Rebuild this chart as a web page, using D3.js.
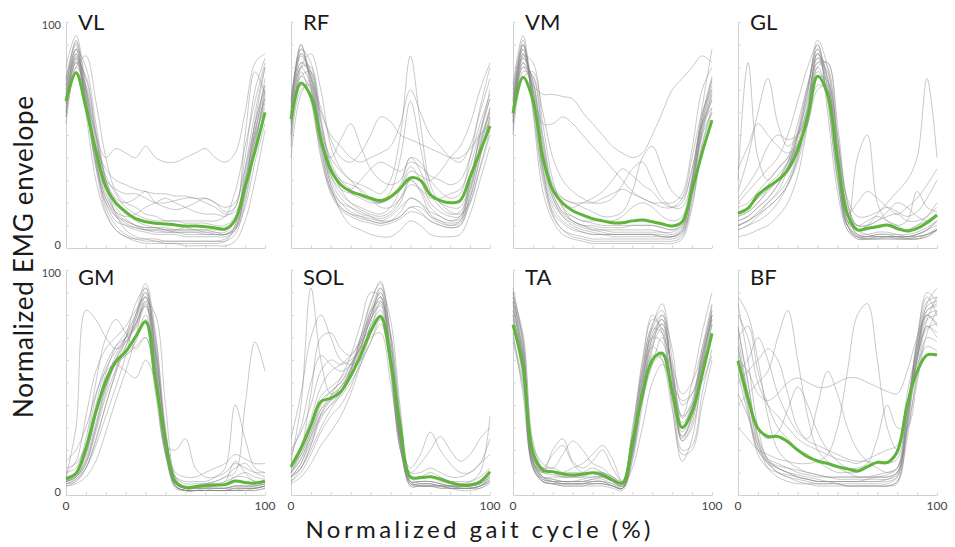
<!DOCTYPE html>
<html><head><meta charset="utf-8">
<script src="https://cdn.jsdelivr.net/npm/d3@7"></script>
<style>body{margin:0;background:#fff}svg{display:block}</style>
</head><body>
<svg id="c" width="955" height="547"></svg>
<script>
// ---- data ----
const gaitPct = [0,5,10,15,20,25,30,35,40,45,50,55,60,65,70,75,80,85,90,95,100];
const muscles = ["VL","RF","VM","GL","GM","SOL","TA","BF"];
const yTickLabels = ["0","100"];
const xTickLabels = ["0","100"];

const meanVL  = [65,77.5,62,43,27,20,16,13,11.6,11,10.6,10.2,9.7,9.7,9.4,8.9,8.4,12.4,27,43,60];
const meanRF  = [57,73,67,48,34.5,28,25,23.5,22,21,22.7,26.5,31,30,23.5,21,20,21,31.5,42.6,54];
const meanVM  = [59.6,75.5,65.5,40,25.7,19.8,16.5,14.6,13,12,11.2,11.2,12,12.4,11.6,10.6,9.7,11.6,25.7,42,56.6];
const meanGL  = [15.3,17.5,23.5,27,30,34.5,43.4,58,76,68,39,15,8,8.7,9.4,10.2,8.7,7.5,8.7,11.2,14.6];
const meanGM  = [7.1,9.6,20.7,37,50.4,59.3,63.7,70.4,77,50.4,23.7,5.9,3.3,3.7,4.1,4.4,4.6,6.2,5.6,5.2,6.2];
const meanSOL = [12.6,20.7,31,41.5,43,46,53,62,72.6,79.3,60,30,8,7.7,8.1,7.1,5.6,4.4,4.4,5.9,10.4];
const meanTA  = [75.6,57,19,11,10.4,9.3,8.9,9.2,9.9,8.9,6.7,5.2,23.7,44.4,60,63,46,30,37,53.3,71.8];
const meanBF  = [59.6,43,29.6,26,26,23.7,20,17,15.1,14,12.6,11.6,10.7,12.6,14.5,14.5,19.3,40,54.8,62.2,62.2];

const tracesVL = [
 [70,92,70,40,18,10,6,4,3,3,2,2,2,2,2,2,3,10,35,60,80],
 [60,88,80,55,30,15,8,5,4,3,3,3,3,3,3,3,4,8,25,50,75],
 [75,90,60,30,15,8,5,4,4,4,3,3,3,3,3,3,3,6,20,45,70],
 [55,80,85,65,40,25,20,18,15,14,12,12,12,12,12,12,14,25,45,65,82],
 [68,85,65,45,35,30,28,26,25,24,24,23,23,22,22,20,18,20,35,55,72],
 [80,94,72,50,40,44,42,40,45,40,38,38,40,42,44,40,38,42,60,82,86],
 [62,84,75,52,30,22,20,22,25,20,18,17,18,20,22,20,16,18,50,78,68],
 [72,88,68,38,20,12,10,9,8,8,8,7,7,7,7,6,6,8,18,38,55],
 [58,82,76,50,26,16,12,10,9,9,8,8,9,8,8,8,8,12,30,52,66],
 [66,86,70,42,24,16,14,15,18,20,22,20,18,16,15,15,14,18,40,70,84],
 [74,91,66,36,16,8,5,3,2,2,2,2,1,1,1,1,1,3,12,30,52],
 [64,83,64,44,30,26,24,24,22,20,20,21,22,22,20,18,15,16,28,48,64],
 [68,84,66,40,22,14,10,8,7,6,6,6,5,5,5,5,5,8,22,45,68],
 [60,80,72,50,30,20,15,12,10,9,9,8,8,8,8,7,7,12,32,55,72],
 [72,88,64,36,20,14,12,10,9,9,8,8,8,8,7,7,6,9,24,48,66],
 [64,82,68,46,28,18,13,10,8,7,7,7,6,6,6,6,6,10,28,52,70],
 [58,78,70,48,32,24,18,15,13,12,12,12,11,11,11,10,10,14,30,50,62],
 [70,86,62,38,22,15,11,9,8,8,7,7,7,7,6,6,6,9,26,56,80]
];
const tracesRF = [
 [60,88,82,50,30,22,18,15,14,13,15,20,30,25,15,12,10,12,30,50,70],
 [50,80,86,70,45,35,30,25,22,20,25,40,65,45,25,18,15,16,28,45,62],
 [65,90,70,40,25,18,15,14,13,12,12,14,18,16,12,10,9,10,22,40,58],
 [45,70,72,60,50,45,40,38,40,42,45,55,70,60,50,45,40,38,45,60,75],
 [55,78,65,45,40,48,55,45,35,30,28,30,40,38,30,25,22,24,40,62,80],
 [62,85,75,48,28,16,10,8,6,5,5,8,12,10,6,5,5,6,15,30,45],
 [58,82,78,55,35,28,26,30,35,38,36,34,38,36,32,30,28,30,40,55,68],
 [48,72,68,52,40,34,30,28,26,24,30,50,85,55,28,20,16,15,20,35,50],
 [52,76,70,48,32,26,24,22,20,20,22,26,34,32,30,34,40,45,55,70,82],
 [66,86,76,46,26,20,18,16,14,12,14,18,22,20,16,14,12,14,30,48,60],
 [40,68,74,62,48,40,38,42,50,58,56,50,48,46,44,42,40,40,44,50,55],
 [56,80,72,50,36,30,28,26,22,18,18,22,28,26,22,22,24,26,36,52,66],
 [60,86,78,48,28,20,16,14,12,11,12,16,22,20,14,11,10,11,24,44,60],
 [54,80,80,58,36,26,20,17,15,14,16,22,30,26,18,14,12,13,26,46,62],
 [62,88,74,44,26,18,15,13,12,11,12,14,18,18,14,12,11,12,22,40,56],
 [58,82,76,52,32,24,20,18,16,15,18,26,36,30,20,16,14,14,26,42,58],
 [64,90,72,42,24,17,14,12,11,10,11,13,16,15,12,10,9,10,20,36,52],
 [50,76,78,56,38,30,26,23,21,20,22,28,40,34,24,20,18,18,30,50,66]
];
const tracesVM = [
 [62,90,70,35,15,8,5,4,3,3,3,3,3,3,3,3,3,5,25,55,72],
 [55,85,82,55,30,18,12,10,8,7,6,6,6,6,6,5,5,8,30,55,65],
 [70,92,60,25,12,6,4,3,2,2,2,2,2,2,2,2,2,4,18,45,60],
 [60,80,72,68,68,67,66,60,55,50,45,42,40,42,50,60,70,75,80,85,82],
 [58,82,70,55,55,58,55,50,45,40,35,30,25,22,20,18,18,22,40,60,70],
 [65,88,68,40,25,20,18,20,22,25,30,35,32,28,25,20,18,20,35,58,75],
 [52,78,76,50,28,22,20,18,16,14,14,16,25,40,45,35,25,22,35,55,62],
 [68,90,66,38,22,15,12,10,10,9,9,9,10,10,10,9,8,10,28,52,68],
 [56,84,74,46,24,16,14,12,12,12,12,14,18,20,18,14,12,14,32,62,88],
 [62,86,70,42,26,22,20,20,20,22,24,26,24,22,20,20,20,24,44,70,80],
 [72,94,62,30,14,8,6,5,4,4,4,4,4,4,4,4,4,6,20,42,55],
 [50,75,78,60,40,30,25,22,20,20,22,28,35,38,30,22,18,18,30,50,60],
 [64,88,68,34,18,12,9,7,6,6,5,5,5,5,5,5,5,7,24,50,66],
 [58,84,74,42,22,14,10,8,7,6,6,6,6,6,6,5,5,8,28,54,70],
 [66,90,64,32,16,11,8,7,6,6,6,6,6,6,6,6,5,7,22,46,62],
 [60,82,72,44,24,16,12,10,9,8,8,8,8,8,8,7,7,10,30,56,74],
 [62,86,66,36,20,14,11,9,8,8,7,7,7,7,7,7,6,9,26,52,68],
 [56,80,76,48,26,18,14,12,11,10,10,10,10,10,10,9,8,11,30,58,76]
];
const tracesGL = [
 [10,12,15,20,25,35,50,70,88,75,40,10,5,4,4,4,4,4,4,5,8],
 [20,25,30,35,40,50,65,80,90,60,25,8,5,5,6,6,5,5,6,8,12],
 [30,82,40,30,35,40,45,55,72,70,45,18,10,12,14,12,10,8,10,14,20],
 [25,40,60,75,55,45,50,62,80,68,35,12,8,8,10,10,8,8,10,12,15],
 [8,10,12,15,20,28,40,60,82,78,45,15,6,5,5,5,5,5,6,8,10],
 [18,20,25,30,35,40,55,72,86,65,30,10,40,50,20,12,10,12,25,18,16],
 [12,14,18,22,28,35,48,68,92,80,40,12,8,10,15,20,25,30,40,75,40],
 [15,18,22,28,32,38,45,55,70,72,50,20,10,10,12,14,15,12,12,14,18],
 [22,28,35,45,50,48,50,60,78,70,35,15,20,25,22,18,15,18,22,28,35],
 [5,6,8,10,14,20,32,55,80,82,55,20,8,6,5,5,5,5,5,6,8],
 [14,16,20,25,30,38,50,66,84,72,38,14,10,10,12,16,20,18,14,12,14],
 [35,45,55,50,45,42,46,58,76,74,48,22,14,14,16,18,16,14,16,22,30],
 [10,12,16,20,24,30,42,62,86,76,38,10,4,4,5,5,5,4,5,6,9],
 [12,14,18,22,28,36,50,70,90,70,32,8,4,4,4,5,4,4,4,6,8],
 [8,10,14,18,22,28,38,56,82,82,50,16,6,5,5,5,5,5,5,6,8],
 [14,16,20,26,30,36,46,64,86,74,36,10,5,5,6,6,6,5,6,8,12],
 [10,12,15,18,22,28,40,60,84,80,44,12,5,4,4,4,4,4,4,5,8],
 [16,18,22,26,30,38,52,72,88,66,30,10,6,6,7,7,6,6,7,9,12]
];
const tracesGM = [
 [5,6,12,25,40,55,70,85,92,60,20,4,2,2,2,2,2,3,3,3,4],
 [10,15,35,55,65,70,75,82,88,70,30,6,3,3,3,3,3,4,4,4,5],
 [8,30,82,78,70,65,68,75,85,55,18,5,3,3,4,4,6,15,10,6,6],
 [4,5,8,15,28,42,55,70,86,80,40,8,3,2,2,2,2,2,3,3,4],
 [12,14,22,38,52,60,62,66,70,45,18,8,6,6,6,8,12,40,25,12,10],
 [6,8,15,30,48,58,62,68,78,62,28,6,3,3,3,4,5,8,10,8,7],
 [8,10,18,35,50,62,70,78,90,66,24,5,3,4,5,6,8,10,40,68,55],
 [15,20,30,45,55,58,55,52,60,50,25,10,8,8,10,12,14,18,16,14,14],
 [5,7,12,22,35,48,62,80,94,72,26,4,2,2,2,2,2,2,2,2,3],
 [10,12,25,50,70,78,72,65,70,52,22,20,25,12,8,8,10,14,12,10,10],
 [7,9,20,38,52,60,64,70,80,58,22,6,4,4,5,5,6,8,8,6,6],
 [6,8,14,28,44,56,66,76,84,64,28,8,5,5,5,6,8,12,14,10,8],
 [5,7,14,30,46,60,70,80,90,62,22,4,2,2,2,2,2,3,3,3,4],
 [6,8,18,36,54,66,72,80,88,58,20,3,2,2,2,2,2,2,2,3,4],
 [4,6,12,24,40,54,66,78,92,68,26,4,2,2,2,2,2,2,2,2,3],
 [8,10,20,40,56,64,70,76,86,56,20,4,2,2,3,3,3,4,4,4,5],
 [6,8,16,32,48,60,68,76,88,64,26,5,3,3,3,3,3,4,4,4,5],
 [7,9,22,44,58,66,70,74,84,52,18,4,2,2,2,3,3,3,3,3,4]
];
const tracesSOL = [
 [8,12,20,30,38,45,55,70,85,95,70,25,5,4,4,4,3,3,3,4,6],
 [15,40,92,60,45,48,55,65,78,85,60,25,8,8,8,7,6,5,5,6,10],
 [10,20,45,70,72,65,62,70,80,88,62,22,6,6,6,5,4,4,4,5,8],
 [5,8,14,22,28,35,45,58,72,86,72,35,6,4,4,3,3,3,3,3,5],
 [20,28,40,55,60,58,60,65,70,72,50,24,12,18,28,20,14,10,10,14,25],
 [12,18,28,38,42,45,52,62,75,82,58,24,8,8,10,8,6,5,6,10,35],
 [6,10,18,28,35,40,48,60,76,92,78,38,8,5,5,4,4,3,3,4,6],
 [18,30,50,62,58,55,58,66,78,84,56,20,10,14,20,26,20,15,18,25,30],
 [14,22,34,48,55,58,62,68,74,80,55,20,8,8,8,7,6,6,6,8,12],
 [10,16,26,36,44,52,62,76,90,88,60,22,5,5,5,4,4,4,4,6,10],
 [25,45,70,80,70,60,58,60,68,76,58,26,10,10,12,10,8,8,10,14,18],
 [8,12,22,35,40,44,50,58,68,78,66,32,8,8,8,6,5,4,5,6,9],
 [8,14,24,36,42,48,56,68,82,92,66,24,4,4,4,4,3,3,3,4,7],
 [10,16,28,40,46,50,58,68,80,90,62,22,5,5,5,4,4,3,3,4,8],
 [6,12,22,34,40,46,56,70,86,94,70,28,4,4,4,3,3,2,2,3,6],
 [12,20,32,44,48,52,58,66,78,88,64,24,6,6,6,5,4,4,4,5,9],
 [8,14,26,38,44,48,54,64,80,90,72,32,6,4,4,4,3,3,3,4,7],
 [10,18,30,42,46,50,56,66,82,86,58,20,6,6,6,5,4,4,4,5,8]
];
const tracesTA = [
 [85,70,20,8,6,5,5,5,5,5,4,3,20,50,75,85,60,30,40,65,85],
 [90,60,12,6,5,4,4,4,4,4,3,2,15,40,65,80,65,40,45,62,78],
 [70,50,18,12,12,10,10,10,12,10,8,6,30,55,70,68,45,20,22,45,65],
 [80,55,15,10,20,25,15,12,15,20,12,6,28,60,80,72,40,15,25,55,80],
 [78,62,22,14,12,18,24,20,14,12,8,5,22,48,62,60,42,25,35,55,72],
 [92,68,16,8,7,6,6,6,7,8,6,4,18,42,58,70,58,45,50,65,82],
 [72,45,14,10,10,10,12,14,18,22,16,6,25,52,66,60,38,18,20,40,60],
 [88,72,24,12,10,8,8,8,10,10,7,5,20,46,70,78,55,35,50,72,90],
 [76,52,12,7,6,6,6,7,8,8,6,4,12,30,50,58,50,42,45,58,70],
 [82,64,18,10,9,8,8,8,8,8,6,4,24,56,76,82,52,24,30,52,76],
 [68,48,16,12,18,22,14,10,10,10,8,6,20,44,58,62,48,35,40,50,62],
 [86,58,14,8,8,8,8,9,10,9,7,5,26,58,78,74,44,28,38,60,80],
 [84,62,14,6,5,5,5,5,5,5,4,3,18,46,68,76,54,30,38,60,80],
 [88,66,16,7,6,6,6,6,6,6,4,3,20,50,72,78,52,26,34,58,78],
 [80,58,12,6,5,4,4,4,5,5,4,3,16,44,66,74,56,34,42,62,82],
 [86,64,15,7,6,5,5,5,6,6,4,3,22,52,74,80,50,24,32,56,76],
 [82,60,13,6,5,5,5,5,6,6,5,3,18,48,70,76,54,32,40,62,84],
 [90,68,18,8,7,6,6,6,7,7,5,4,24,54,74,72,46,26,36,58,80]
];
const tracesBF = [
 [85,60,30,15,10,8,6,5,4,4,4,4,4,4,4,4,5,30,70,88,80],
 [70,75,55,40,30,25,20,18,15,12,10,10,10,12,15,14,18,45,65,82,85],
 [40,45,50,55,70,82,60,35,20,15,12,10,8,8,8,8,10,30,60,75,70],
 [30,25,20,18,16,15,14,14,15,18,30,55,80,85,60,30,20,40,65,80,75],
 [60,55,45,42,45,50,52,50,48,48,50,52,52,50,48,46,45,55,70,80,76],
 [75,50,25,12,8,6,5,5,5,5,5,4,4,4,4,4,6,25,55,78,88],
 [50,55,60,65,60,45,30,25,40,55,45,30,20,15,12,10,12,35,62,85,92],
 [80,70,50,40,35,30,25,22,20,18,16,15,14,16,18,20,22,40,58,66,64],
 [45,35,22,15,12,10,8,7,6,6,6,6,6,7,8,8,10,28,52,70,68],
 [65,45,30,25,28,38,48,40,28,20,15,12,12,14,25,40,30,30,50,72,82],
 [55,60,70,60,45,35,28,24,22,20,18,16,15,15,14,14,16,38,60,75,72],
 [88,80,60,35,20,15,12,10,9,8,8,8,8,8,9,10,12,34,68,90,86],
 [70,45,22,14,10,8,7,6,5,5,5,4,4,4,4,4,6,32,64,82,84],
 [62,40,20,14,12,10,8,7,6,6,5,5,5,5,5,5,8,36,66,84,86],
 [74,50,26,16,12,10,9,8,7,6,6,6,6,6,6,6,8,30,60,80,82],
 [58,38,18,12,10,9,8,7,6,6,6,6,6,6,6,7,10,38,68,86,88],
 [66,44,24,16,14,12,10,9,8,8,7,7,7,7,7,7,9,34,62,78,80],
 [54,36,20,15,13,12,11,10,9,8,8,8,8,8,8,9,12,40,62,74,76]
];

const means  = [meanVL,meanRF,meanVM,meanGL,meanGM,meanSOL,meanTA,meanBF];
const traces = [tracesVL,tracesRF,tracesVM,tracesGL,tracesGM,tracesSOL,tracesTA,tracesBF];

// ---- layout ----
const colX = [66, 291, 513, 738];
const panelW = 199;
const rowTop = [22, 270];
const rowBottom = [248, 495];
const FONT = "Lato, 'Open Sans', sans-serif";

const svg = d3.select("#c");

muscles.forEach((m, i) => {
  const col = i % 4, row = Math.floor(i / 4);
  const x = d3.scaleLinear().domain([0, 100]).range([colX[col], colX[col] + panelW]);
  const y = d3.scaleLinear().domain([0, 100]).range([rowBottom[row], rowTop[row]]);
  const g = svg.append("g");

  const ax = g.append("g").attr("transform", `translate(0,${rowBottom[row]})`)
    .call(d3.axisBottom(x).tickValues(d3.range(0, 101, 10)).tickSize(-3).tickSizeOuter(0).tickFormat(""));
  const ay = g.append("g").attr("transform", `translate(${colX[col]},0)`)
    .call(d3.axisLeft(y).tickValues(d3.range(0, 101, 10)).tickSize(-3).tickSizeOuter(0).tickFormat(""));
  [ax, ay].forEach(a => {
    a.select(".domain").attr("stroke", "#cfcfcf").attr("stroke-width", 1);
    a.selectAll(".tick line").attr("stroke", "#d8d8d8");
  });

  const line = d3.line().x((d, k) => x(gaitPct[k])).y(d => y(d)).curve(d3.curveCatmullRom.alpha(0.5));

  g.append("g").selectAll("path").data(traces[i]).join("path")
    .attr("d", line).attr("fill", "none")
    .attr("stroke", "#888").attr("stroke-opacity", 0.45).attr("stroke-width", 1);

  g.append("path").datum(means[i]).attr("d", line).attr("fill", "none")
    .attr("stroke", "#5fb43a").attr("stroke-width", 3).attr("stroke-linejoin", "round");

  g.append("text").attr("x", colX[col] + 12).attr("y", row === 0 ? 30 : 285)
    .attr("font-family", FONT).attr("font-size", 22).attr("fill", "#1a1a1a").text(m);

  if (col === 0) {
    g.append("text").attr("x", colX[col] - 5).attr("y", y(100) + 7).attr("text-anchor", "end")
      .attr("font-family", FONT).attr("font-size", 11).attr("fill", "#444").text(yTickLabels[1]);
    g.append("text").attr("x", colX[col] - 5).attr("y", y(0) + 1).attr("text-anchor", "end")
      .attr("font-family", FONT).attr("font-size", 11).attr("fill", "#444").text(yTickLabels[0]);
  }
  if (row === 1) {
    g.append("text").attr("x", x(0)).attr("y", rowBottom[row] + 15).attr("text-anchor", "middle")
      .attr("font-family", FONT).attr("font-size", 12).attr("fill", "#444").text(xTickLabels[0]);
    g.append("text").attr("x", x(100)).attr("y", rowBottom[row] + 15).attr("text-anchor", "middle")
      .attr("font-family", FONT).attr("font-size", 12).attr("fill", "#444").text(xTickLabels[1]);
  }
});

svg.append("text").attr("transform", "translate(33,257) rotate(-90)").attr("text-anchor", "middle")
  .attr("font-family", FONT).attr("font-size", 26).attr("fill", "#1a1a1a")
  .attr("textLength", 322).attr("lengthAdjust", "spacing").text("Normalized EMG envelope");
svg.append("text").attr("x", 478).attr("y", 538).attr("text-anchor", "middle")
  .attr("font-family", FONT).attr("font-size", 24).attr("fill", "#1a1a1a")
  .attr("textLength", 345).attr("lengthAdjust", "spacing").text("Normalized gait cycle (%)");
</script>
</body></html>
